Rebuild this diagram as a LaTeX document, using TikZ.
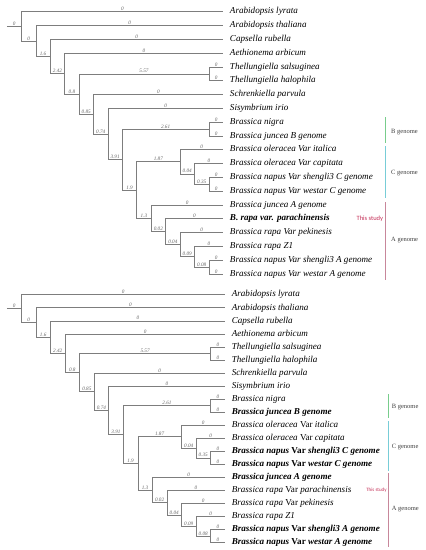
\documentclass[tikz,border=0pt]{standalone}
\usepackage{fontspec}
\setmainfont{Liberation Serif}
\newfontfamily\studyfont{Carlito}
\usetikzlibrary{positioning}

\definecolor{treegray}{RGB}{125,125,125}
\definecolor{bgreen}{RGB}{120,205,140}
\definecolor{ccyan}{RGB}{120,205,215}
\definecolor{apink}{RGB}{200,135,155}
\definecolor{studyred}{RGB}{195,45,85}

\tikzset{
  leaf/.style={anchor=west, inner xsep=6.5pt, inner ysep=0pt, text height=5.5pt,
    text depth=1pt, font=\fontsize{9.1}{10}\selectfont\itshape},
  brlen/.style={pos=.75, above, inner sep=.5pt, text=black!60,
    font=\fontsize{5.2}{5.2}\selectfont\itshape},
  genome/.style={anchor=west, inner sep=0pt, text=black!75,
    font=\fontsize{6.5}{7}\selectfont},
  studytxt/.style={inner sep=0pt, text=studyred}
}

% internal nodes and branches of one tree, #1 = prefix of the leaf names
\newcommand{\brassicatree}[1]{
  \coordinate (#1stem) at (-1,1.060);
  \coordinate (#1r)  at (0,1.060);
  \coordinate (#1n2) at (1,2.120);
  \coordinate (#1n3) at (2,3.241);
  \coordinate (#1n4) at (3,4.482);
  \coordinate (#1n5) at (4,5.964);
  \coordinate (#1n6) at (5,7.428);
  \coordinate (#1n7) at (6,8.855);
  \coordinate (#1n8) at (7,10.711);
  \coordinate (#1n9) at (8,12.922);
  \coordinate (#1t)  at (13,4.5);
  \coordinate (#1b)  at (13,8.5);
  \coordinate (#1c1) at (11,10.875);
  \coordinate (#1c2) at (12,11.75);
  \coordinate (#1c3) at (13,12.5);
  \coordinate (#1a1) at (9,14.969);
  \coordinate (#1a2) at (10,15.938);
  \coordinate (#1a3) at (11,16.875);
  \coordinate (#1a4) at (12,17.75);
  \coordinate (#1a5) at (13,18.5);

  \begin{scope}[every node/.style=brlen]
    \begin{scope}[every edge/.style={draw=treegray, line width=.6pt,
        to path={|- (\tikztotarget) \tikztonodes}}]
      \path (#1stem) edge node {0} (#1r);
      \path (#1r)  edge node {0} (#11.west);
      \path (#1r)  edge node {0} (#1n2);
      \path (#1n2) edge node {0} (#12.west);
      \path (#1n2) edge node {1.6} (#1n3);
      \path (#1n3) edge node {0} (#13.west);
      \path (#1n3) edge node {2.42} (#1n4);
      \path (#1n4) edge node {0} (#14.west);
      \path (#1n4) edge node {0.8} (#1n5);
      \path (#1n5) edge node {5.57} (#1t);
      \path (#1n5) edge node {0.85} (#1n6);
      \path (#1t)  edge node {0} (#15.west);
      \path (#1t)  edge node {0} (#16.west);
      \path (#1n6) edge node {0} (#17.west);
      \path (#1n6) edge node {0.74} (#1n7);
      \path (#1n7) edge node {0} (#18.west);
      \path (#1n7) edge node {3.91} (#1n8);
      \path (#1n8) edge node {2.61} (#1b);
      \path (#1n8) edge node {1.9} (#1n9);
      \path (#1b)  edge node {0} (#19.west);
      \path (#1b)  edge node {0} (#110.west);
      \path (#1n9) edge node {1.87} (#1c1);
      \path (#1n9) edge node {1.3} (#1a1);
      \path (#1c1) edge node {0} (#111.west);
      \path (#1c1) edge node {0.04} (#1c2);
      \path (#1c2) edge node {0} (#112.west);
      \path (#1c2) edge node {0.35} (#1c3);
      \path (#1c3) edge node {0} (#113.west);
      \path (#1c3) edge node {0} (#114.west);
      \path (#1a1) edge node {0} (#115.west);
      \path (#1a1) edge node {0.02} (#1a2);
      \path (#1a2) edge node {0} (#116.west);
      \path (#1a2) edge node {0.04} (#1a3);
      \path (#1a3) edge node {0} (#117.west);
      \path (#1a3) edge node {0.09} (#1a4);
      \path (#1a4) edge node {0} (#118.west);
      \path (#1a4) edge node {0.08} (#1a5);
      \path (#1a5) edge node {0} (#119.west);
      \path (#1a5) edge node {0} (#120.west);
    \end{scope}
  \end{scope}
}

\begin{document}
\begin{tikzpicture}
  \useasboundingbox (0pt,0pt) rectangle (426pt,-550pt);

  % upper tree
  \begin{scope}[shift={(21.4pt,-11.7pt)}, x=14.42pt, y=-13.8pt]
    \begin{scope}[every node/.style=leaf]
      \node (p1)  at (14,0)  {Arabidopsis lyrata};
      \node (p2)  at (14,1)  {Arabidopsis thaliana};
      \node (p3)  at (14,2)  {Capsella rubella};
      \node (p4)  at (14,3)  {Aethionema arbicum};
      \node (p5)  at (14,4)  {Thellungiella salsuginea};
      \node (p6)  at (14,5)  {Thellungiella halophila};
      \node (p7)  at (14,6)  {Schrenkiella parvula};
      \node (p8)  at (14,7)  {Sisymbrium irio};
      \node (p9)  at (14,8)  {Brassica nigra};
      \node (p10) at (14,9)  {Brassica juncea B genome};
      \node (p11) at (14,10) {Brassica oleracea Var italica};
      \node (p12) at (14,11) {Brassica oleracea Var capitata};
      \node (p13) at (14,12) {Brassica napus Var shengli3 C genome};
      \node (p14) at (14,13) {Brassica napus Var westar C genome};
      \node (p15) at (14,14) {Brassica juncea A genome};
      \node (p16) at (14,15) {\bfseries B. rapa var. parachinensis};
      \node (p17) at (14,16) {Brassica rapa Var pekinesis};
      \node (p18) at (14,17) {Brassica rapa Z1};
      \node (p19) at (14,18) {Brassica napus Var shengli3 A genome};
      \node (p20) at (14,19) {Brassica napus Var westar A genome};
    \end{scope}
    \brassicatree{p}
  \end{scope}

  % lower tree
  \begin{scope}[shift={(21.4pt,-294.7pt)}, x=14.55pt, y=-13.05pt]
    \begin{scope}[every node/.style=leaf]
      \node (q1)  at (14,0)  {Arabidopsis lyrata};
      \node (q2)  at (14,1)  {Arabidopsis thaliana};
      \node (q3)  at (14,2)  {Capsella rubella};
      \node (q4)  at (14,3)  {Aethionema arbicum};
      \node (q5)  at (14,4)  {Thellungiella salsuginea};
      \node (q6)  at (14,5)  {Thellungiella halophila};
      \node (q7)  at (14,6)  {Schrenkiella parvula};
      \node (q8)  at (14,7)  {Sisymbrium irio};
      \node (q9)  at (14,8)  {Brassica nigra};
      \node (q10) at (14,9)  {\bfseries Brassica juncea B genome};
      \node (q11) at (14,10) {Brassica oleracea {\upshape Var} italica};
      \node (q12) at (14,11) {Brassica oleracea {\upshape Var} capitata};
      \node (q13) at (14,12) {\bfseries Brassica napus {\upshape Var} shengli3 C genome};
      \node (q14) at (14,13) {\bfseries Brassica napus {\upshape Var} westar C genome};
      \node (q15) at (14,14) {\bfseries Brassica juncea A genome};
      \node (q16) at (14,15) {Brassica rapa {\upshape Var} parachinensis};
      \node (q17) at (14,16) {Brassica rapa {\upshape Var} pekinesis};
      \node (q18) at (14,17) {Brassica rapa Z1};
      \node (q19) at (14,18) {\bfseries Brassica napus {\upshape Var} shengli3 A genome};
      \node (q20) at (14,19) {\bfseries Brassica napus {\upshape Var} westar A genome};
    \end{scope}
    \brassicatree{q}
  \end{scope}

  % genome bars, upper tree
  \fill[bgreen] (385pt,-116.7pt) rectangle (386.4pt,-143.3pt);
  \fill[ccyan]  (385pt,-146.2pt) rectangle (386.4pt,-198.3pt);
  \fill[apink]  (385pt,-201.5pt) rectangle (386.4pt,-280pt);
  \node[genome] (pB) at (391pt,-132.3pt) {B genome};
  \node[genome] (pC) at (391pt,-173.3pt) {C genome};
  \node[genome] (pA) at (391pt,-240pt) {A genome};
  \node[studytxt, anchor=east, font=\studyfont\fontsize{6.5}{7}\selectfont]
    (pstudy) at (383.3pt,-218.6pt) {This study};

  % genome bars, lower tree
  \fill[bgreen] (388pt,-394pt) rectangle (389.4pt,-418.3pt);
  \fill[ccyan]  (388pt,-420.7pt) rectangle (389.4pt,-470.7pt);
  \fill[apink]  (388pt,-473.3pt) rectangle (389.4pt,-546.7pt);
  \node[genome] (qB) at (391.7pt,-407pt) {B genome};
  \node[genome] (qC) at (391.7pt,-446.7pt) {C genome};
  \node[genome] (qA) at (391.7pt,-509.3pt) {A genome};
  \node[studytxt, right=8pt of q16, font=\studyfont\fontsize{5}{6}\selectfont]
    (qstudy) {This study};
\end{tikzpicture}
\end{document}
